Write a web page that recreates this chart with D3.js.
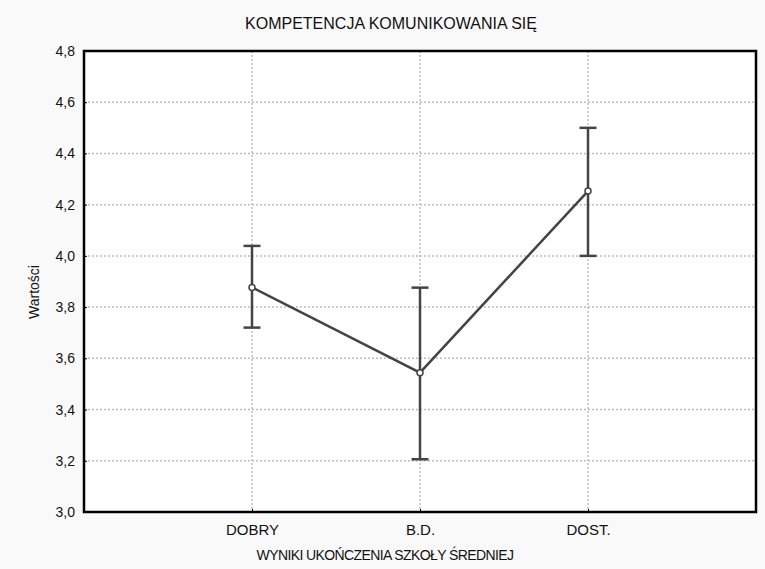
<!DOCTYPE html>
<html>
<head>
<meta charset="utf-8">
<script src="https://cdn.jsdelivr.net/npm/d3@7"></script>
<style>
  body { margin: 0; background: #f9f9f9; }
  text { font-family: "Liberation Sans", Arial, sans-serif; fill: #111; }
</style>
</head>
<body>
<div id="chart"></div>
<script>
// categories on the x axis
const categories = ["DOBRY", "B.D.", "DOST."];
// means and confidence limits
const means = [3.877, 3.544, 4.253];
const lower = [3.720, 3.206, 4.000];
const upper = [4.039, 3.876, 4.500];
const yTicks = [3.0, 3.2, 3.4, 3.6, 3.8, 4.0, 4.2, 4.4, 4.6, 4.8];

const W = 765, H = 569;
const margin = {top: 51, right: 9, bottom: 57, left: 84};
const width = W - margin.left - margin.right;
const height = H - margin.top - margin.bottom;

const svg = d3.select("#chart").append("svg")
    .attr("width", W)
    .attr("height", H);

// title
svg.append("text")
    .attr("x", 391).attr("y", 29)
    .attr("text-anchor", "middle")
    .style("font-size", "16px")
    .text("KOMPETENCJA KOMUNIKOWANIA SIĘ");

const g = svg.append("g")
    .attr("transform", `translate(${margin.left},${margin.top})`);

// scales: categories sit at 1..3 on a 0..4 range
const x = d3.scaleLinear().domain([0, categories.length + 1]).range([0, width]);
const y = d3.scaleLinear().domain([3.0, 4.8]).range([height, 0]);

g.append("rect")
    .attr("width", width).attr("height", height)
    .attr("fill", "#fff");

// grid
g.selectAll(".hgrid").data(yTicks.slice(1, -1)).enter().append("line")
    .attr("x1", 0).attr("x2", width)
    .attr("y1", d => y(d)).attr("y2", d => y(d))
    .attr("stroke", "#bdbdbd").attr("stroke-width", 1.5)
    .attr("stroke-dasharray", "2,2");
g.selectAll(".vgrid").data(categories).enter().append("line")
    .attr("x1", (d, i) => x(i + 1)).attr("x2", (d, i) => x(i + 1))
    .attr("y1", 0).attr("y2", height)
    .attr("stroke", "#bdbdbd").attr("stroke-width", 1.5)
    .attr("stroke-dasharray", "2,2");

// axes
const yAxis = d3.axisLeft(y).tickValues(yTicks).tickSize(3)
    .tickFormat(d => d3.format(".1f")(d).replace(".", ","));
const xAxis = d3.axisBottom(x).tickValues([1, 2, 3]).tickSize(3)
    .tickFormat(d => categories[d - 1]);

const ya = g.append("g").call(yAxis);
ya.select(".domain").remove();
ya.selectAll("line").attr("x1", 0).attr("x2", 3).attr("stroke", "#000");
ya.selectAll("text").attr("x", -9).style("font-size", "14px").style("font-family", "Liberation Sans, Arial, sans-serif").attr("fill", "#111");

const xa = g.append("g").attr("transform", `translate(0,${height})`).call(xAxis);
xa.select(".domain").remove();
xa.selectAll("line").attr("y1", 0).attr("y2", -3).attr("stroke", "#000");
xa.selectAll("text").attr("y", 12).style("font-size", "15px").style("font-family", "Liberation Sans, Arial, sans-serif").attr("fill", "#111");

// frame
g.append("rect")
    .attr("width", width).attr("height", height)
    .attr("fill", "none").attr("stroke", "#000").attr("stroke-width", 2.5);

// axis titles
svg.append("text")
    .attr("x", 385).attr("y", 560)
    .attr("text-anchor", "middle")
    .style("font-size", "14px")
    .style("letter-spacing", "-0.6px")
    .text("WYNIKI UKOŃCZENIA SZKOŁY ŚREDNIEJ");
svg.append("text")
    .attr("transform", "translate(39,292) rotate(-90)")
    .attr("text-anchor", "middle")
    .style("font-size", "14px")
    .text("Wartości");

const col = "#444";

// error bars
const bars = g.selectAll(".err").data(categories).enter().append("g");
bars.append("line")
    .attr("x1", (d, i) => x(i + 1)).attr("x2", (d, i) => x(i + 1))
    .attr("y1", (d, i) => y(lower[i])).attr("y2", (d, i) => y(upper[i]))
    .attr("stroke", col).attr("stroke-width", 2.5);
bars.append("line")
    .attr("x1", (d, i) => x(i + 1) - 8.5).attr("x2", (d, i) => x(i + 1) + 8.5)
    .attr("y1", (d, i) => y(upper[i])).attr("y2", (d, i) => y(upper[i]))
    .attr("stroke", col).attr("stroke-width", 2.5);
bars.append("line")
    .attr("x1", (d, i) => x(i + 1) - 8.5).attr("x2", (d, i) => x(i + 1) + 8.5)
    .attr("y1", (d, i) => y(lower[i])).attr("y2", (d, i) => y(lower[i]))
    .attr("stroke", col).attr("stroke-width", 2.5);

// mean line
const line = d3.line().x((d, i) => x(i + 1)).y(d => y(d));
g.append("path")
    .datum(means)
    .attr("d", line)
    .attr("fill", "none").attr("stroke", col).attr("stroke-width", 2.5);

g.selectAll(".pt").data(means).enter().append("circle")
    .attr("cx", (d, i) => x(i + 1)).attr("cy", d => y(d))
    .attr("r", 3)
    .attr("fill", "#fff").attr("stroke", col).attr("stroke-width", 1.5);
</script>
</body>
</html>
